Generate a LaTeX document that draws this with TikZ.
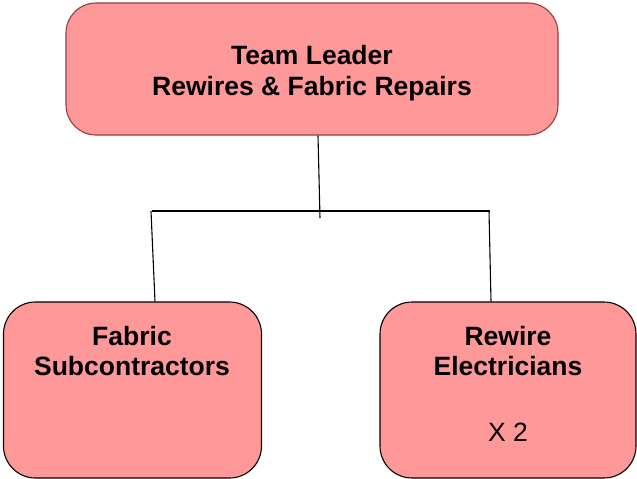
\documentclass[tikz,border=0pt]{standalone}
\usepackage{fontspec}
\setmainfont{Liberation Sans}
\definecolor{boxfill}{RGB}{255,153,153}
\definecolor{topline}{RGB}{150,60,60}
\begin{document}
\begin{tikzpicture}[x=1pt,y=-1pt,
  box/.style={draw=black, fill=boxfill, line width=1.1pt, rounded corners=32pt, inner sep=0pt},
  lbl/.style={align=center, font=\fontsize{26.5}{29.5}\selectfont\bfseries, inner sep=0pt},
  conn/.style={draw=black, line width=1.1pt}]
\useasboundingbox (0,0) rectangle (637,479);
\node[box, draw=topline, rounded corners=30pt, minimum width=492pt, minimum height=132pt] (top) at (312,69) {};
\node[lbl, font=\fontsize{26.5}{31}\selectfont\bfseries] (toptext) at (312,73) {Team Leader\\Rewires \& Fabric Repairs};
\node[box, minimum width=258pt, minimum height=176pt] (left) at (132.5,390) {};
\node[box, minimum width=256pt, minimum height=176pt] (right) at (508,390) {};
\node[lbl] (lefttext) at (132,351) {Fabric\\Subcontractors};
\node[lbl] (righttext) at (508,351) {Rewire\\Electricians};
\node[lbl, font=\fontsize{26.5}{29.5}\selectfont] (x2) at (508,432) {X 2};
\coordinate (j) at (320,218);
\coordinate (hl) at (152,211);
\coordinate (hr) at (490,211);
\draw[conn] ([xshift=6pt]top.south) -- (j);
\draw[conn] (hl) -- (hr);
\draw[conn] ([xshift=-1pt]hl) -- ([xshift=22.5pt]left.north);
\draw[conn] ([xshift=-1pt]hr) -- ([xshift=-17pt]right.north);
\end{tikzpicture}
\end{document}
